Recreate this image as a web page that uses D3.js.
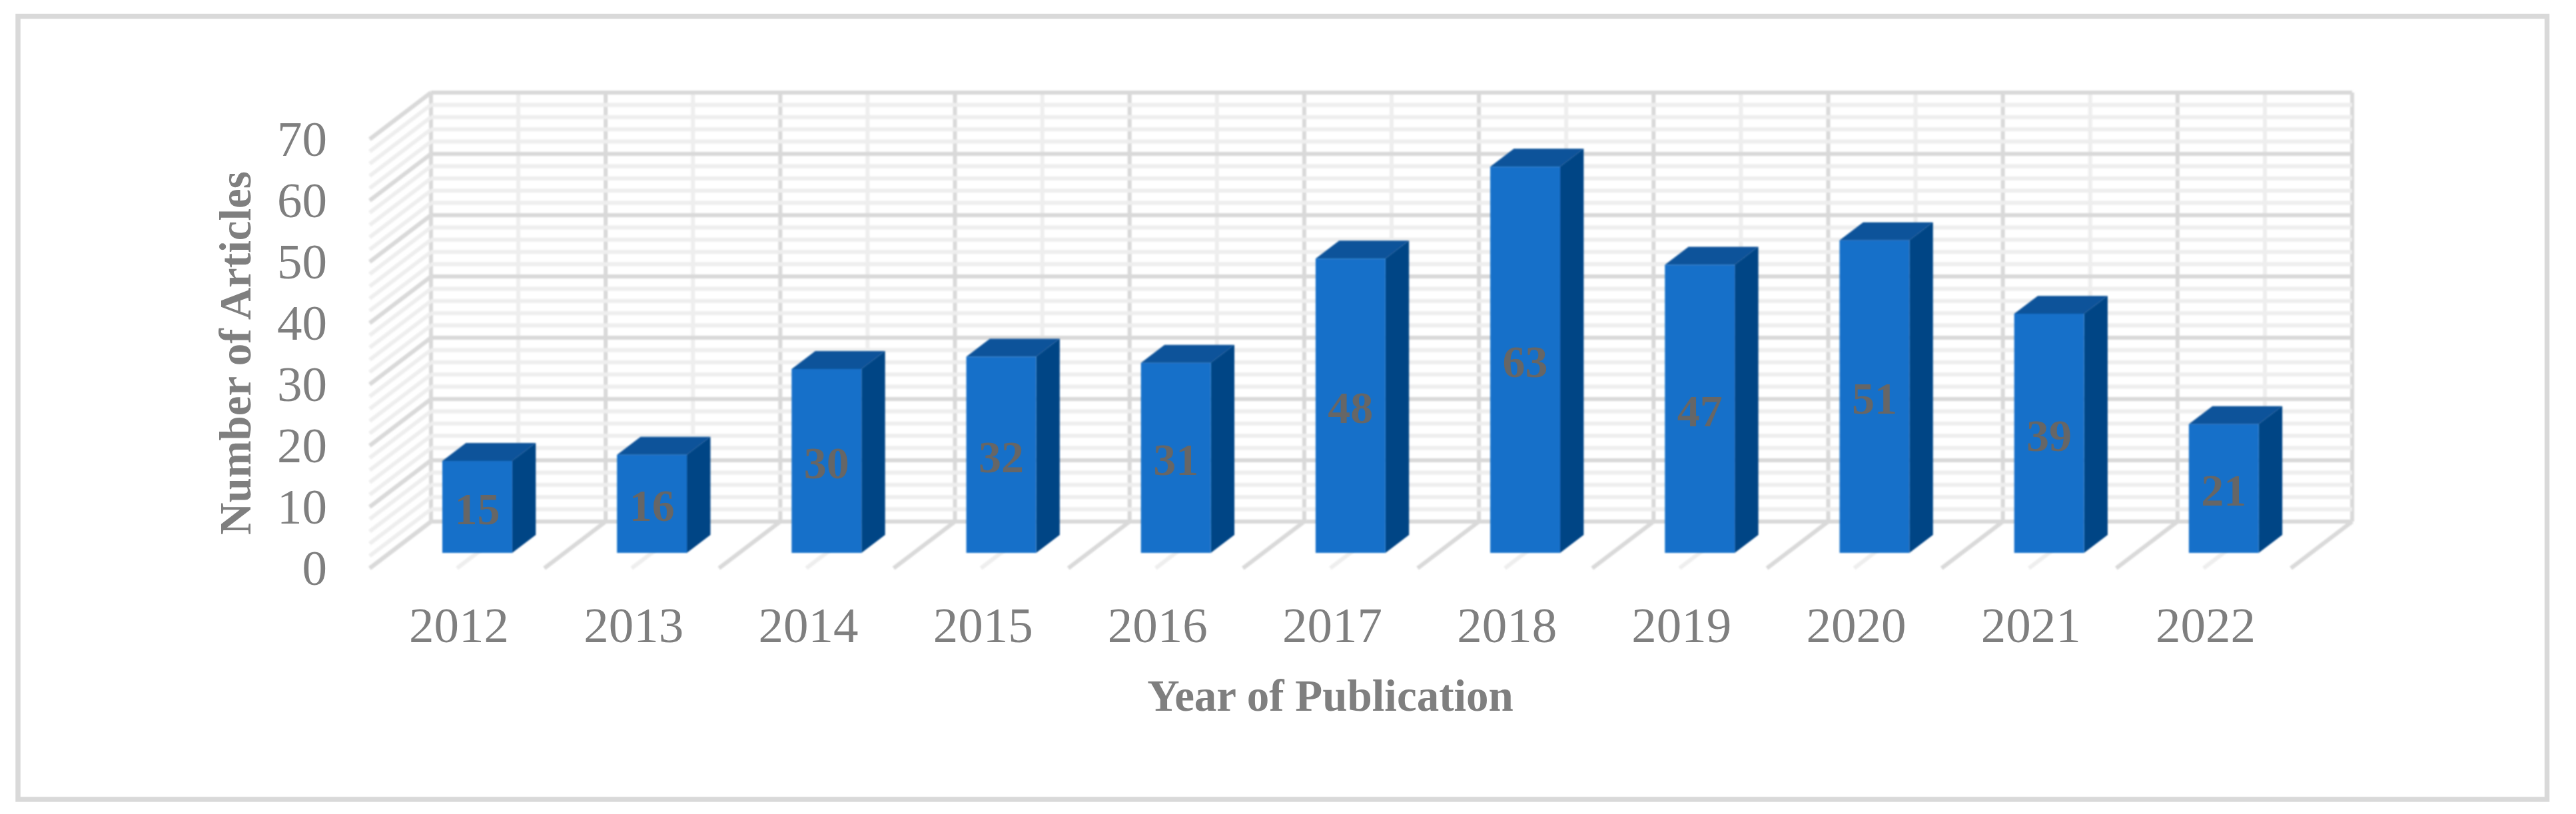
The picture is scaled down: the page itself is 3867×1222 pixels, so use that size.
<!DOCTYPE html>
<html>
<head>
<meta charset="utf-8">
<script src="https://d3js.org/d3.v7.min.js"></script>
<style>
body { margin: 0; background: #fff; }
text { font-family: "Liberation Serif", serif; }
</style>
</head>
<body>
<svg></svg>
<script>
// data
var years = ["2012", "2013", "2014", "2015", "2016", "2017", "2018", "2019", "2020", "2021", "2022"];
var articles = [15, 16, 30, 32, 31, 48, 63, 47, 51, 39, 21];
var majorTicks = [0, 10, 20, 30, 40, 50, 60, 70];
var minorTicks = d3.range(0, 71, 2);

var width = 3867, height = 1222;

var svg = d3.select("svg")
    .attr("width", width)
    .attr("height", height)
    .style("display", "block");

// the original is a slightly soft raster
svg.append("defs").append("filter")
    .attr("id", "soft")
    .attr("filterUnits", "userSpaceOnUse")
    .attr("x", 0).attr("y", 0)
    .attr("width", width).attr("height", height)
    .append("feGaussianBlur")
    .attr("stdDeviation", 0.9);

// outer frame
svg.append("rect")
    .attr("x", 27).attr("y", 24.5)
    .attr("width", 3796.5).attr("height", 1175.5)
    .attr("fill", "#fff")
    .attr("stroke", "#d9d9d9")
    .attr("stroke-width", 7.5);

// back wall scales
var x = d3.scaleBand()
    .domain(years)
    .range([647, 3531])
    .paddingInner(0.6)
    .paddingOuter(0.3);

var y = d3.scaleLinear()
    .domain([0, 70])
    .range([783, 139]);

// how far the front of the floor sits from the back wall
var depthX = 92, depthY = 70;
var zFront = 0.67, zBack = 0.285;

var left = x.range()[0], right = x.range()[1], step = x.step();
var edges = d3.range(0, years.length + 1).map(function(i) { return left + i * step; });
var mids = years.map(function(d, i) { return left + (i + 0.5) * step; });

var grid = svg.append("g").attr("filter", "url(#soft)");

function gridLines(cls, lines, color, w) {
    grid.append("g")
        .attr("class", cls)
        .attr("stroke", color)
        .attr("stroke-width", w)
        .attr("fill", "none")
        .selectAll("line")
        .data(lines)
        .enter()
        .append("line")
        .attr("x1", function(d) { return d[0]; })
        .attr("y1", function(d) { return d[1]; })
        .attr("x2", function(d) { return d[2]; })
        .attr("y2", function(d) { return d[3]; });
}

var minorColor = "#eeeeee", majorColor = "#d9d9d9";

// floor lines
gridLines("floor-minor", mids.map(function(m) {
    return [m, y(0), m - depthX, y(0) + depthY];
}), minorColor, 6);
gridLines("floor-major", edges.map(function(e) {
    return [e, y(0), e - depthX, y(0) + depthY];
}), majorColor, 6);

// back wall, vertical first, horizontals go over them
gridLines("wall-v-major", edges.map(function(e) {
    return [e, y(70), e, y(0)];
}), majorColor, 6);
gridLines("wall-v-minor", mids.map(function(m) {
    return [m, y(70), m, y(0)];
}), minorColor, 6);
gridLines("wall-h-minor", minorTicks.map(function(t) {
    return [left, y(t), right, y(t)];
}), minorColor, 6);
gridLines("wall-h-major", majorTicks.map(function(t) {
    return [left, y(t), right, y(t)];
}), majorColor, 6);

// side wall
gridLines("side-minor", minorTicks.map(function(t) {
    return [left, y(t), left - depthX, y(t) + depthY];
}), minorColor, 6);
gridLines("side-major", majorTicks.map(function(t) {
    return [left, y(t), left - depthX, y(t) + depthY];
}), majorColor, 6);

// bars
function pt(px, v, z) {
    return [px - z * depthX, y(v) + z * depthY];
}
var poly = d3.line();
var barData = years.map(function(d, i) { return { year: d, value: articles[i] }; });
var bars = svg.append("g")
    .attr("filter", "url(#soft)")
    .selectAll("g.bar")
    .data(barData)
    .enter()
    .append("g")
    .attr("class", "bar");

bars.append("path")
    .attr("fill", "#11529a")
    .attr("d", function(d) {
        var a = x(d.year), b = a + x.bandwidth();
        return poly([pt(a, d.value, zFront), pt(a, d.value, zBack), pt(b, d.value, zBack), pt(b, d.value, zFront)]) + "Z";
    });
bars.append("path")
    .attr("fill", "#064585")
    .attr("d", function(d) {
        var b = x(d.year) + x.bandwidth();
        return poly([pt(b, d.value, zFront), pt(b, d.value, zBack), pt(b, 0, zBack), pt(b, 0, zFront)]) + "Z";
    });
bars.append("path")
    .attr("fill", "#1570c9")
    .attr("d", function(d) {
        var a = x(d.year), b = a + x.bandwidth();
        return poly([pt(a, d.value, zFront), pt(b, d.value, zFront), pt(b, 0, zFront), pt(a, 0, zFront)]) + "Z";
    });

// value labels
svg.append("g")
    .selectAll("text")
    .data(barData)
    .enter()
    .append("text")
    .attr("x", function(d) { return pt(x(d.year) + x.bandwidth() / 2, 0, zFront)[0]; })
    .attr("y", function(d) { return (pt(0, d.value, zFront)[1] + pt(0, 0, zFront)[1]) / 2 + 26; })
    .attr("text-anchor", "middle")
    .attr("font-size", 68)
    .attr("font-weight", "bold")
    .attr("fill", "#666666")
    .text(function(d) { return d.value; });

// axes, tick labels only
var yAxis = svg.append("g")
    .attr("transform", "translate(491," + depthY + ")")
    .call(d3.axisLeft(y).tickValues(majorTicks).tickSize(0).tickPadding(0));
var xAxis = svg.append("g")
    .attr("transform", "translate(" + (-depthX + 3) + ",911)")
    .call(d3.axisBottom(x).tickSize(0).tickPadding(0));

[yAxis, xAxis].forEach(function(ax) {
    ax.select(".domain").remove();
    ax.selectAll("text")
        .attr("font-size", 75)
        .attr("fill", "#7f7f7f")
        .style("font-family", "'Liberation Serif', serif");
});

// axis titles
svg.append("text")
    .attr("transform", "translate(376,530) rotate(-90)")
    .attr("text-anchor", "middle")
    .attr("font-size", 67)
    .attr("font-weight", "bold")
    .attr("fill", "#7f7f7f")
    .text("Number of Articles");

svg.append("text")
    .attr("x", 1997)
    .attr("y", 1067)
    .attr("text-anchor", "middle")
    .attr("font-size", 67)
    .attr("font-weight", "bold")
    .attr("fill", "#7f7f7f")
    .text("Year of Publication");
</script>
</body>
</html>
